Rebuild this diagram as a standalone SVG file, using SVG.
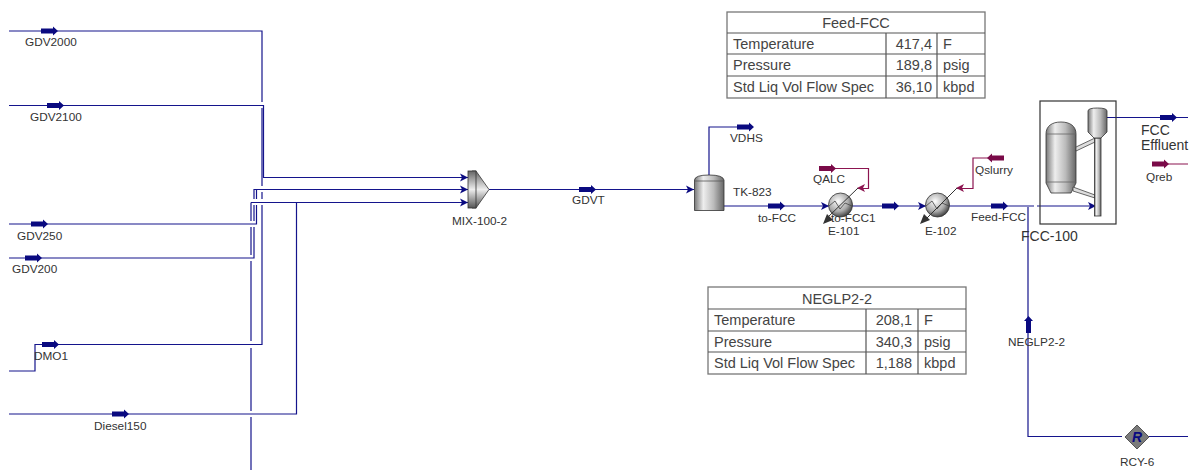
<svg xmlns="http://www.w3.org/2000/svg" width="1196" height="470" viewBox="0 0 1196 470">
<style>
text{font-family:"Liberation Sans",Arial,sans-serif;fill:#333}
.l{font-size:11.8px}
.b{font-size:14px}
.t{font-size:14.500px;fill:#444}
.t text{fill:#444}
.m{text-anchor:middle}
.e{text-anchor:end}
.s{fill:none;stroke:#14148c;stroke-width:1.200}
.q{fill:none;stroke:#8c1450;stroke-width:1.200}
.g{fill:none;stroke:#555;stroke-width:1.200}
.tb{fill:#fff;stroke:#777;stroke-width:1.300}
</style>
<defs>
<linearGradient id="h" x1="0" x2="1" y1="0" y2="0"><stop offset="0" stop-color="#777"/><stop offset=".3" stop-color="#eee"/><stop offset=".65" stop-color="#bbb"/><stop offset="1" stop-color="#666"/></linearGradient>
<linearGradient id="v" x1="0" x2="0" y1="0" y2="1"><stop offset="0" stop-color="#666"/><stop offset=".5" stop-color="#eee"/><stop offset="1" stop-color="#555"/></linearGradient>
<radialGradient id="r" cx=".4" cy=".35" r=".7"><stop offset="0" stop-color="#fff"/><stop offset=".6" stop-color="#aaa"/><stop offset="1" stop-color="#333"/></radialGradient>
<path id="big" d="M0-2.500H12V-4.500L17 0 12 4.500V2.500H0Z" fill="#0a0a80"/>
<path id="bigq" d="M0-2.500H12V-4.500L17 0 12 4.500V2.500H0Z" fill="#7a0a48"/>
<path id="sm" d="M0 0L-8-4-6 0-8 4Z" fill="#0a0a80"/>
<path id="smq" d="M0 0L8-4 6 0 8 4Z" fill="#8c1450"/>
</defs>
<g id="connectors">
<path class="s" d="M9 31H262V102"/>
<path class="s" d="M9 105.500H263.500V177.500H468"/>
<path class="s" d="M262 108V186M262 192V199M262 205V344.500H35V371H9"/>
<path class="s" d="M9 224H256.500V205M256.500 199V189.500"/>
<path class="s" d="M9 258H254V227M254 221V205M254 199V189.500H468"/>
<path class="s" d="M251 202.500V221M251 227V255M251 261V341M251 348V411M251 417V470"/>
<path class="s" d="M251 202.500H468"/>
<path class="s" d="M9 414H296.500V202.500"/>
<path class="s" d="M489 189.500H694"/>
<path class="s" d="M709 176V127H740"/>
<path class="s" d="M724 206H1034M1037 206H1097"/>
<path class="s" d="M1107 117.500H1188"/>
<path class="s" d="M1028 207V436.500H1122"/>
<path class="s" d="M1149 436.500H1188"/>
<path class="q" d="M820 168.500H868.500V188.500H858"/>
<path class="q" d="M1004 158H973V188.500H957"/>
<path class="q" d="M1152 164H1188"/>
<use href="#big" x="41" y="31"/>
<use href="#big" x="47" y="105.500"/>
<use href="#big" x="31" y="224"/>
<use href="#big" x="25" y="258"/>
<use href="#big" x="42" y="344.500"/>
<use href="#big" x="112" y="414"/>
<use href="#big" x="579" y="189.500"/>
<use href="#big" x="737" y="127"/>
<use href="#big" x="768" y="206"/>
<use href="#big" x="882" y="206"/>
<use href="#big" x="991" y="206"/>
<use href="#big" x="1160" y="117.500"/>
<use href="#bigq" x="819" y="168.500"/>
<use href="#bigq" x="1152" y="164"/>
<use href="#bigq" transform="translate(1004 158) scale(-1 1)"/>
<use href="#big" transform="translate(1028.500 333) rotate(-90)"/>
<use href="#sm" x="468" y="177.500"/>
<use href="#sm" x="468" y="189.500"/>
<use href="#sm" x="468" y="202.500"/>
<use href="#sm" x="694" y="189.500"/>
<use href="#sm" x="829" y="206"/>
<use href="#sm" x="926" y="206"/>
<use href="#sm" x="1096" y="206"/>
<use href="#sm" transform="translate(1149 436.500) scale(.8)"/>
<use href="#smq" x="857" y="188"/>
<use href="#smq" x="956" y="188"/>
</g>
<g id="stream-labels" class="l">
<text x="25" y="46">GDV2000</text>
<text x="30" y="121">GDV2100</text>
<text x="17" y="240">GDV250</text>
<text x="12" y="273">GDV200</text>
<text x="34" y="360">DMO1</text>
<text x="94" y="430">Diesel150</text>
<text x="572" y="204">GDVT</text>
<text x="730" y="142">VDHS</text>
<text x="733" y="196">TK-823</text>
<text x="758" y="222">to-FCC</text>
<text x="813" y="183">QALC</text>
<text x="975" y="174">Qslurry</text>
<text x="831" y="222">to-FCC1</text>
<text x="971" y="221">Feed-FCC</text>
<text x="1146" y="181">Qreb</text>
<text x="1008" y="346">NEGLP2-2</text>
<text class="b" x="1141" y="135">FCC</text>
<text class="b" x="1141" y="150">Effluent</text>
</g>
<g id="MIX-100-2">
<path d="M472 171H476L489 189.500 476 208H472Z" fill="url(#v)" stroke="#333" stroke-width=".8"/>
<rect x="468" y="171" width="8" height="37" fill="url(#v)" stroke="#333" stroke-width=".8"/>
<text class="l" x="452" y="225">MIX-100-2</text>
</g>
<g id="TK-823">
<path d="M694.500 180Q695 175 709 175 723 175 724 180V210.500H694.500Z" fill="url(#h)" stroke="#333" stroke-width=".8"/>
<path d="M694.500 181H724" stroke="#555" fill="none" stroke-width=".8"/>
</g>
<g id="E-101">
<circle cx="840.500" cy="205" r="12" fill="url(#r)" stroke="#333" stroke-width=".8"/>
<path d="M829 206L835 201 840 209 845 203 852 206" fill="none" stroke="#444" stroke-width=".8"/>
<path d="M858 188L828 217" stroke="#333" fill="none"/>
<path d="M823 224L827 214 833 220Z" fill="#333"/>
<text class="l" x="828" y="235">E-101</text>
</g>
<g id="E-102">
<circle cx="937.500" cy="205" r="12" fill="url(#r)" stroke="#333" stroke-width=".8"/>
<path d="M926 206L932 201 937 209 942 203 949 206" fill="none" stroke="#444" stroke-width=".8"/>
<path d="M957 188L925 220" stroke="#333" fill="none"/>
<path d="M920 224L924 214 930 220Z" fill="#333"/>
<text class="l" x="925" y="235">E-102</text>
</g>
<g id="FCC-100">
<rect x="1040" y="101" width="76" height="123" fill="none" stroke="#333" stroke-width="1.200"/>
<path d="M1046 134C1046 126 1052 122 1061 122 1070 122 1076 126 1076 134V183L1071 193H1051L1046 183Z" fill="url(#h)" stroke="#333" stroke-width=".8"/>
<path d="M1046 134H1076M1046 182H1076" stroke="#666" fill="none" stroke-width=".8"/>
<path d="M1076 147L1095 138 1095 142 1076 151Z" fill="#ddd" stroke="#444" stroke-width=".8"/>
<path d="M1073 187L1095 195 1095 198 1073 191Z" fill="#ddd" stroke="#444" stroke-width=".8"/>
<rect x="1094.500" y="138" width="6.500" height="78" fill="url(#h)" stroke="#333" stroke-width=".8"/>
<path d="M1088 111Q1088 108 1097.500 108 1107 108 1107 111V132L1101 138H1094L1088 132Z" fill="url(#h)" stroke="#333" stroke-width=".8"/>
<text class="b" x="1021" y="241">FCC-100</text>
</g>
<g id="RCY-6">
<path d="M1137 425L1149 437 1137 449 1125 437Z" fill="#7b7b7b" stroke="#555"/>
<text x="1137" y="442" text-anchor="middle" style="font-size:14px;font-style:italic;font-weight:bold;fill:#0a0a80">R</text>
<text class="l" x="1120" y="466">RCY-6</text>
</g>
<g id="table-Feed-FCC" class="t">
<rect class="tb" x="727" y="12" width="258" height="86"/>
<path class="g" d="M727 33H985M727 54H985M727 76H985M886 33V98M937 33V98"/>
<text class="m" x="856" y="28">Feed-FCC</text>
<text x="733" y="49">Temperature</text>
<text x="733" y="70">Pressure</text>
<text x="733" y="92">Std Liq Vol Flow Spec</text>
<text class="e" x="932" y="49">417,4</text>
<text class="e" x="932" y="70">189,8</text>
<text class="e" x="932" y="92">36,10</text>
<text x="943" y="49">F</text>
<text x="943" y="70">psig</text>
<text x="943" y="92">kbpd</text>
</g>
<g id="table-NEGLP2-2" class="t">
<rect class="tb" x="708" y="287" width="258" height="87"/>
<path class="g" d="M708 309H966M708 331H966M708 352H966M866 309V374M918 309V374"/>
<text class="m" x="837" y="304">NEGLP2-2</text>
<text x="714" y="325">Temperature</text>
<text x="714" y="347">Pressure</text>
<text x="714" y="368">Std Liq Vol Flow Spec</text>
<text class="e" x="912" y="325">208,1</text>
<text class="e" x="912" y="347">340,3</text>
<text class="e" x="912" y="368">1,188</text>
<text x="924" y="325">F</text>
<text x="924" y="347">psig</text>
<text x="924" y="368">kbpd</text>
</g>
</svg>
